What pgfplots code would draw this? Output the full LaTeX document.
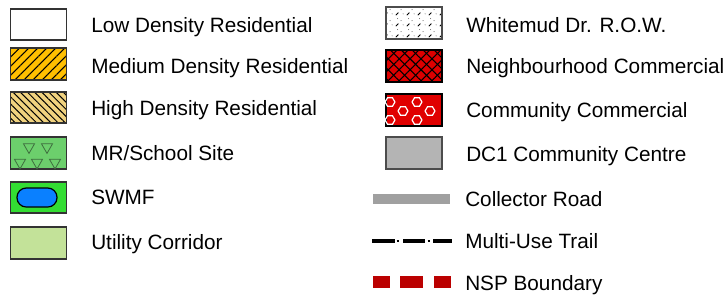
\documentclass[border=0pt]{standalone}
\usepackage{pgfplots}
\pgfplotsset{compat=1.18}
\usepackage{fontspec}
\setmainfont{Liberation Sans}
\usetikzlibrary{patterns.meta}

\definecolor{medorange}{HTML}{FFBF00}
\definecolor{hightan}{HTML}{F0D27F}
\definecolor{mrgreen}{HTML}{6CCF6C}
\definecolor{mrtri}{HTML}{3E6E3E}
\definecolor{swgreen}{HTML}{33DD33}
\definecolor{swblue}{HTML}{0A80FF}
\definecolor{utilgreen}{HTML}{C3E299}
\definecolor{ncred}{HTML}{DD0000}
\definecolor{ccred}{HTML}{E00000}
\definecolor{dcgray}{HTML}{B4B4B4}
\definecolor{roadgray}{HTML}{A0A0A0}
\definecolor{nspred}{HTML}{BB0000}

\pgfdeclareplotmark{hexagon}{%
  \pgfpathmoveto{\pgfqpointpolar{0}{\pgfplotmarksize}}%
  \pgfpathlineto{\pgfqpointpolar{60}{\pgfplotmarksize}}%
  \pgfpathlineto{\pgfqpointpolar{120}{\pgfplotmarksize}}%
  \pgfpathlineto{\pgfqpointpolar{180}{\pgfplotmarksize}}%
  \pgfpathlineto{\pgfqpointpolar{240}{\pgfplotmarksize}}%
  \pgfpathlineto{\pgfqpointpolar{300}{\pgfplotmarksize}}%
  \pgfpathclose\pgfusepathqstroke}

\tikzdeclarepattern{
  name=whitemud, type=uncolored,
  bounding box={(0,0) and (8pt,8pt)},
  tile size={(8pt,8pt)},
  code={
    \draw[line width=0.6pt] (0.6pt,0.6pt) -- (2.6pt,2.6pt);
    \fill (4.6pt,4.8pt) circle (0.35pt);
    \fill (6.2pt,1.6pt) circle (0.3pt);
    \fill (2.0pt,6.4pt) circle (0.3pt);
  }
}

\tikzset{lab/.style={anchor=base west, inner sep=0pt, font=\fontsize{15.55}{18}\selectfont}}

\begin{document}
\begin{tikzpicture}
\begin{axis}[
  name=ax,
  scale only axis,
  width=544.5pt, height=220.5pt,
  xmin=0, xmax=726, ymin=0, ymax=294,
  y dir=reverse,
  hide axis,
  clip=false,
]
% ---------- left column swatches ----------
\addplot[fill=white, draw=black!80, line width=1.1pt] coordinates {(10.5,9) (66.5,9) (66.5,40) (10.5,40)} -- cycle;
\addplot[fill=medorange, draw=black!80, line width=1.1pt, postaction={pattern={Lines[angle=45,distance=4.8pt,line width=0.8pt]}, pattern color=black}] coordinates {(10.5,48) (66.5,48) (66.5,80) (10.5,80)} -- cycle;
\addplot[fill=hightan, draw=black!80, line width=1.1pt, postaction={pattern={Lines[angle=-45,distance=3.8pt,line width=0.75pt]}, pattern color=black}] coordinates {(10.5,92) (66.5,92) (66.5,123) (10.5,123)} -- cycle;
\addplot[fill=mrgreen, draw=black!80, line width=1.1pt] coordinates {(10.5,137) (66.5,137) (66.5,169) (10.5,169)} -- cycle;
\addplot[only marks, mark=triangle, mark size=4.8pt, mark options={rotate=180, draw=mrtri, line width=0.6pt}] coordinates {(29,147) (47,147) (20,162.5) (37,162.5) (55,162.5)};
\addplot[fill=swgreen, draw=black!80, line width=1.1pt] coordinates {(10.5,182) (66.5,182) (66.5,213) (10.5,213)} -- cycle;
\addplot[fill=swblue, draw=black, line width=0.9pt, rounded corners=6.9pt] coordinates {(17,188) (57,188) (57,207) (17,207)} -- cycle;
\addplot[fill=utilgreen, draw=black!80, line width=1.1pt] coordinates {(10.5,227) (66.5,227) (66.5,259) (10.5,259)} -- cycle;

% ---------- right column swatches ----------
\addplot[fill=white, draw=black!70, line width=1.1pt, postaction={pattern=whitemud, pattern color=black}] coordinates {(386,7) (442,7) (442,39) (386,39)} -- cycle;
\addplot[fill=ncred, draw=black, line width=1.1pt, postaction={pattern={Lines[angle=45,distance=5.8pt,line width=0.8pt]}, pattern color=black}, postaction={pattern={Lines[angle=-45,distance=5.8pt,line width=0.8pt]}, pattern color=black}] coordinates {(386,50) (442,50) (442,82) (386,82)} -- cycle;
\addplot[fill=ccred, draw=black, line width=1.1pt] coordinates {(386,94) (442,94) (442,126) (386,126)} -- cycle;
\addplot[only marks, mark=hexagon, mark size=3.7pt, mark options={draw=white, line width=0.9pt}] coordinates {(390,102) (417,102) (403,111) (430,111) (390,120) (417,120)};
\addplot[fill=dcgray, draw=black!70, line width=1.1pt] coordinates {(386,137) (442,137) (442,169) (386,169)} -- cycle;

% ---------- line symbols ----------
\addplot[roadgray, line width=7.5pt] coordinates {(373,199) (450,199)};
\addplot[black, line width=3.6pt] coordinates {(372,241) (395,241)};
\addplot[black, line width=3.6pt] coordinates {(403,241) (425,241)};
\addplot[black, line width=3.6pt] coordinates {(433,241) (452,241)};
\addplot[black, line width=1.5pt] coordinates {(396.5,241) (398.5,241)};
\addplot[black, line width=1.5pt] coordinates {(427.5,241) (429.5,241)};
\addplot[nspred, line width=9pt] coordinates {(373,282) (390,282)};
\addplot[nspred, line width=9pt] coordinates {(400,282) (423,282)};
\addplot[nspred, line width=9pt] coordinates {(434,282) (451,282)};

% ---------- labels ----------
\node[lab] at (axis cs:91,32.3) {Low Density Residential};
\node[lab] at (axis cs:91,73) {Medium Density Residential};
\node[lab] at (axis cs:91,115) {High Density Residential};
\node[lab] at (axis cs:91,160) {MR/School Site};
\node[lab] at (axis cs:91,204.5) {SWMF};
\node[lab] at (axis cs:91,249.5) {Utility Corridor};

\node[lab] at (axis cs:466,32) {Whitemud Dr. R.O.W.};
\node[lab] at (axis cs:466,73) {Neighbourhood Commercial};
\node[lab] at (axis cs:466,117) {Community Commercial};
\node[lab] at (axis cs:466,161) {DC1 Community Centre};
\node[lab] at (axis cs:465,206) {Collector Road};
\node[lab] at (axis cs:465,248) {Multi-Use Trail};
\node[lab] at (axis cs:465,290) {NSP Boundary};
\end{axis}
\pgfresetboundingbox
\useasboundingbox (ax.south west) rectangle (ax.north east);
\end{tikzpicture}
\end{document}
